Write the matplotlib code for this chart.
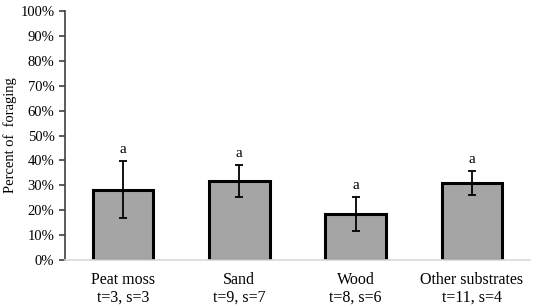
import matplotlib
matplotlib.use('Agg')
import matplotlib.pyplot as plt
from matplotlib.ticker import PercentFormatter

# data
categories = ['Peat moss\nt=3, s=3', 'Sand\nt=9, s=7', 'Wood\nt=8, s=6', 'Other substrates\nt=11, s=4']
means = [28.2, 31.8, 18.6, 30.9]
errors = [11.5, 6.5, 6.8, 4.8]
letters = ['a', 'a', 'a', 'a']

plt.rcParams['font.family'] = ['Liberation Serif', 'DejaVu Serif']

fig = plt.figure(figsize=(5.36, 3.08), dpi=100)
ax = fig.add_axes([0.121, 0.156, 0.868, 0.808])

x = range(len(categories))
ax.bar(x, means, width=0.52, color='#a5a5a5', edgecolor='black', linewidth=2.2,
       yerr=errors, capsize=3, error_kw={'elinewidth': 1.3, 'capthick': 1.3, 'ecolor': 'black'})

for i, (m, e, l) in enumerate(zip(means, errors, letters)):
    ax.text(i, m + e + 2, l, ha='center', va='bottom', fontsize=11)

ax.set_xlim(-0.5, len(categories) - 0.5)
ax.set_ylim(0, 100)
ax.set_yticks(range(0, 101, 10))
ax.yaxis.set_major_formatter(PercentFormatter(decimals=0))
ax.set_xticks(list(x))
ax.set_xticklabels(categories, fontsize=11.5, linespacing=1.1)
ax.tick_params(axis='x', length=0, pad=9)
ax.tick_params(axis='y', labelsize=10.5, length=4, width=1.2, color='#404040', direction='out')

ax.spines['top'].set_visible(False)
ax.spines['right'].set_visible(False)
ax.spines['left'].set_color('#404040')
ax.spines['left'].set_linewidth(1.2)
ax.spines['bottom'].set_color('#d9d9d9')
ax.spines['bottom'].set_linewidth(1.2)

ax.set_ylabel('Percent of  foraging', fontsize=10.5)
ax.yaxis.set_label_coords(-0.102, 0.5)

fig.savefig('out.png', dpi=100)
